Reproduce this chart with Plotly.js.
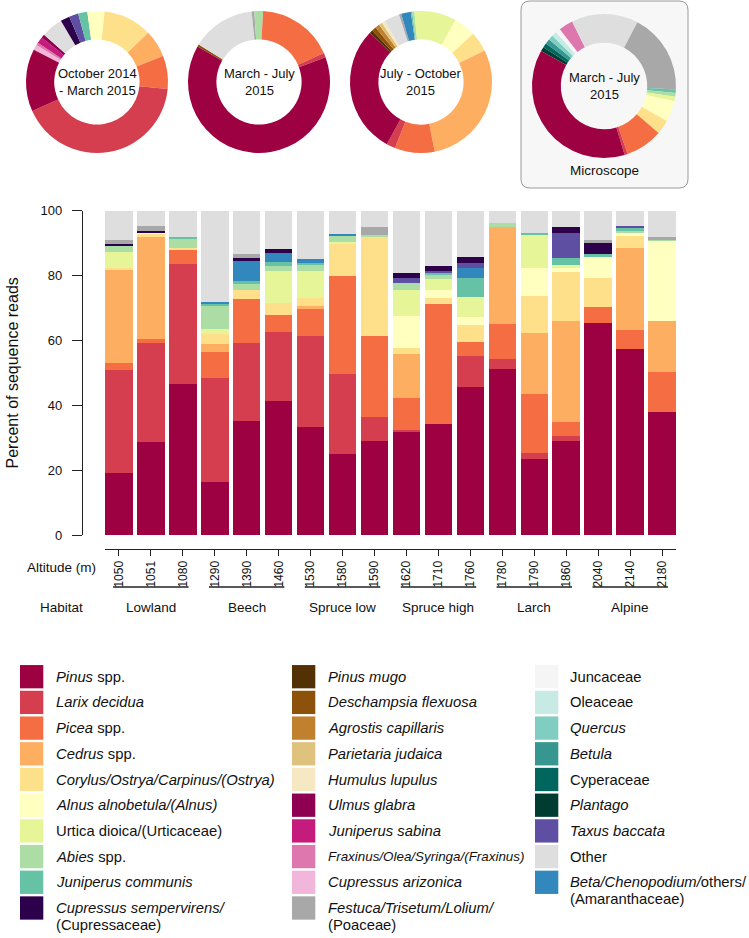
<!DOCTYPE html>
<html><head><meta charset="utf-8">
<script src="https://cdn.plot.ly/plotly-3.0.1.min.js"></script>
<style>html,body{margin:0;padding:0;background:#fff}#chart{width:749px;height:938px}</style>
</head><body><div id="chart"></div>
<script>
// ---------------- DATA ----------------
const altitudes = ['1050','1051','1080','1290','1390','1460','1530','1580','1590','1620','1710','1760','1780','1790','1860','2040','2140','2180'];
const habitats = ['Lowland','Beech','Spruce low','Spruce high','Larch','Alpine'];
const habitatFirstBar = [0, 3, 6, 9, 12, 15];
const habitatLastBar  = [2, 5, 8, 11, 14, 17];
const yTicks = [0, 20, 40, 60, 80, 100];

// percent of sequence reads per altitude (stack order bottom -> top)
const barPinus     = [19.0, 28.8, 46.5, 16.4, 35.3, 41.3, 33.4, 25.0, 29.1, 31.9, 34.1, 45.7, 51.2, 23.3, 29.1, 65.3, 57.3, 37.8];
const barLarix     = [31.9, 30.3, 37.1, 32.1, 23.8, 21.4, 28.0, 24.6,  7.2,  0.5,  0.0,  9.6,  3.0,  2.1,  1.4,  0.0,  0.0,  0.0];
const barPicea     = [ 2.2,  1.3,  4.3,  7.9, 13.7,  5.0,  8.2, 30.3, 25.1,  9.9, 37.0,  4.1, 10.8, 18.1,  4.4,  5.1,  6.0, 12.6];
const barCedrus    = [28.6, 31.6,  0.0,  2.5,  0.0,  0.0,  1.0,  0.0,  0.0, 13.5,  0.0,  0.0, 30.1, 18.7, 31.1,  0.0, 25.3, 15.7];
const barCorylus   = [ 0.7,  1.0,  0.7,  3.1,  2.9,  3.7,  2.6, 10.2, 30.8,  1.8,  1.9,  5.3,  0.0, 11.5, 15.2,  9.0,  3.6,  0.0];
const barAlnus     = [ 0.0,  0.3,  0.0,  0.0,  0.0,  0.0,  0.0,  0.0,  0.0,  9.9,  2.5,  2.6,  0.0,  8.7,  1.5,  6.4,  1.1, 24.7];
const barUrtica    = [ 5.0,  0.0,  0.0,  1.4,  0.0, 10.1,  8.3,  0.3,  0.0,  8.2,  3.3,  6.2,  0.0, 10.3,  0.5,  0.0,  0.0,  0.0];
const barAbies     = [ 2.0,  0.0,  2.9,  7.2,  1.9,  1.6,  2.0,  1.9,  0.4,  2.1,  1.7,  0.0,  1.2,  0.0,  0.0,  0.0,  0.5,  0.3];
const barJunComm   = [ 0.0,  0.0,  0.3,  0.8,  0.6,  1.1,  0.3,  0.2,  0.0,  0.0,  0.4,  5.8,  0.0,  0.4,  2.3,  1.0,  0.8,  0.0];
const barBeta      = [ 0.0,  0.0,  0.0,  0.3,  6.6,  2.8,  1.2,  0.2,  0.0,  0.0,  0.0,  3.1,  0.0,  0.0,  0.0,  0.0,  0.0,  0.0];
const barTaxus     = [ 0.0,  0.0,  0.0,  0.0,  0.0,  0.0,  0.0,  0.0,  0.0,  1.6,  0.6,  1.4,  0.0,  0.0,  7.5,  0.0,  0.7,  0.0];
const barCupSemp   = [ 0.2,  0.4,  0.0,  0.0,  0.5,  1.1,  0.0,  0.0,  0.0,  1.5,  1.5,  1.8,  0.0,  0.0,  1.9,  3.3,  0.0,  0.0];
const barFestuca   = [ 1.4,  1.6,  0.0,  0.0,  1.5,  0.0,  0.0,  0.0,  2.5,  0.0,  0.0,  0.0,  0.0,  0.0,  0.0,  0.8,  0.0,  0.7];
const barOther     = [ 9.0,  4.7,  8.2, 28.3, 13.2, 11.9, 15.0,  7.3,  4.9, 19.1, 17.0, 14.4,  3.7,  6.9,  5.1,  9.1,  4.7,  8.2];

// donut slices, counter-clockwise order starting with Pinus
const donutTaxa = ['pinus','larix','picea','cedrus','corylus','alnus','urtica','abies','junComm','beta','taxus','cupSemp','festuca','other',
                   'ulmus','junSab','fraxinus','cupAriz','juncaceae','oleaceae','quercus','betula','cyperaceae','plantago',
                   'humulus','parietaria','agrostis','deschampsia','pinMugo'];
const donutOct14Mar15 = [14.2, 41.7,  7.5,  6.2, 11.1, 3.9, 0.0, 0.0, 2.1, 0.0, 2.1, 2.1,  0.0,  4.9, 0.8, 1.5, 0.6, 1.2, 0,0,0,0,0,0, 0,0,0,0,0];
const donutMarJul15   = [64.0,  1.0, 17.4,  0.0,  0.0, 0.0, 0.0, 2.0, 0.0, 0.0, 0.0, 0.0,  0.6, 14.5, 0,0,0,0, 0,0,0,0,0,0, 0,0,0,0.5,0];
const donutJulOct15   = [29.0,  2.0,  9.0, 29.0,  4.5, 5.0, 9.5, 0.5, 0.3, 2.2, 0.0, 0.0,  0.5,  3.5, 0,0,0,0, 0,0,0,0,0,0, 0.7,0.8,1.0,1.0,0.7];
const donutMicroscope = [37.5,  0.7,  8.3,  0.0,  3.2, 4.7, 1.0, 0.8, 0.8, 0.0, 0.0, 0.0, 18.0, 14.9, 0,0,3.2,0, 1.1,1.1,1.1,1.1,1.0,1.0, 0,0,0,0,0];
const donutTitles = ['October 2014<br>- March 2015', 'March - July<br>2015', 'July - October<br>2015', 'March - July<br>2015'];
const microscopeLabel = 'Microscope';

// legend
const legendCol1 = ['pinus','larix','picea','cedrus','corylus','alnus','urtica','abies','junComm','cupSemp'];
const legendCol2 = ['pinMugo','deschampsia','agrostis','parietaria','humulus','ulmus','junSab','fraxinus','cupAriz','festuca'];
const legendCol3 = ['juncaceae','oleaceae','quercus','betula','cyperaceae','plantago','taxus','other','beta'];
const legendLabels = {
  pinus:'<i>Pinus</i> spp.', larix:'<i>Larix decidua</i>', picea:'<i>Picea</i> spp.', cedrus:'<i>Cedrus</i> spp.',
  corylus:'<i>Corylus/Ostrya/Carpinus/(Ostrya)</i>', alnus:'<i>Alnus alnobetula/(Alnus)</i>',
  urtica:'Urtica dioica/(Urticaceae)', abies:'<i>Abies</i> spp.', junComm:'<i>Juniperus communis</i>',
  cupSemp:'<i>Cupressus sempervirens/</i><br>(Cupressaceae)',
  pinMugo:'<i>Pinus mugo</i>', deschampsia:'<i>Deschampsia flexuosa</i>', agrostis:'<i>Agrostis capillaris</i>',
  parietaria:'<i>Parietaria judaica</i>', humulus:'<i>Humulus lupulus</i>', ulmus:'<i>Ulmus glabra</i>',
  junSab:'<i>Juniperus sabina</i>', fraxinus:'<i>Fraxinus/Olea/Syringa/(Fraxinus)</i>', cupAriz:'<i>Cupressus arizonica</i>',
  festuca:'<i>Festuca/Trisetum/Lolium/</i><br>(Poaceae)',
  juncaceae:'Juncaceae', oleaceae:'Oleaceae', quercus:'<i>Quercus</i>', betula:'<i>Betula</i>', cyperaceae:'Cyperaceae',
  plantago:'<i>Plantago</i>', taxus:'<i>Taxus baccata</i>', other:'Other',
  beta:'<i>Beta/Chenopodium/</i>others/<br>(Amaranthaceae)'
};

// ---------------- STYLE ----------------
const colors = {
  pinus:'#9E0142', larix:'#D53E4F', picea:'#F46D43', cedrus:'#FDAE61', corylus:'#FEE08B', alnus:'#FFFFBF',
  urtica:'#E6F598', abies:'#ABDDA4', junComm:'#66C2A5', cupSemp:'#2D004B', pinMugo:'#543005', deschampsia:'#8C510A',
  agrostis:'#BF812D', parietaria:'#DFC27D', humulus:'#F6E8C3', ulmus:'#8E0152', junSab:'#C51B7D', fraxinus:'#DE77AE',
  cupAriz:'#F1B6DA', festuca:'#A8A8A8', juncaceae:'#F5F5F5', oleaceae:'#C7EAE5', quercus:'#80CDC1', betula:'#35978F',
  cyperaceae:'#01665E', plantago:'#003C30', taxus:'#5E4FA2', other:'#DEDEDE', beta:'#3288BD'
};
const W = 749, H = 938;
const fx = v => v / W;
const fy = v => 1 - v / H;
const FONT = 'Liberation Sans, Arial, Helvetica, sans-serif';

const barSeries = [
  ['pinus', barPinus], ['larix', barLarix], ['picea', barPicea], ['cedrus', barCedrus], ['corylus', barCorylus],
  ['alnus', barAlnus], ['urtica', barUrtica], ['abies', barAbies], ['junComm', barJunComm], ['beta', barBeta],
  ['taxus', barTaxus], ['cupSemp', barCupSemp], ['festuca', barFestuca], ['other', barOther]
];

const traces = barSeries.map(([k, vals]) => ({
  type:'bar', x: altitudes, y: vals, name: legendLabels[k],
  marker:{color: colors[k], line:{width:0}}, xaxis:'x', yaxis:'y',
  showlegend:false, hoverinfo:'x+y'
}));

const donutGeom = [
  {cx: 97,  cy: 82, r: 71, rot: -63},
  {cx: 259, cy: 82, r: 71, rot: -60},
  {cx: 421, cy: 82, r: 71, rot: -46},
  {cx: 604, cy: 86, r: 72, rot: -61}
];
const donutData = [donutOct14Mar15, donutMarJul15, donutJulOct15, donutMicroscope];
const revTaxa = donutTaxa.slice().reverse();
donutData.forEach((vals, i) => {
  const g = donutGeom[i];
  traces.push({
    type:'pie', values: vals.slice().reverse(), labels: revTaxa,
    marker:{colors: revTaxa.map(k => colors[k]), line:{width:0}},
    hole:0.6, sort:false, direction:'clockwise', rotation:g.rot,
    textinfo:'none', hoverinfo:'label+percent', showlegend:false,
    domain:{x:[fx(g.cx - g.r), fx(g.cx + g.r)], y:[fy(g.cy + g.r), fy(g.cy - g.r)]}
  });
});

const annotations = [];
const shapes = [];

// microscope box (rounded)
(function(){
  const x0 = 521, x1 = 688, y0 = 1, y1 = 188, r = 9;
  const P = (x, y) => fx(x) + ',' + fy(y);
  const path = 'M' + P(x0 + r, y0) + ' L' + P(x1 - r, y0) + ' Q' + P(x1, y0) + ' ' + P(x1, y0 + r) +
    ' L' + P(x1, y1 - r) + ' Q' + P(x1, y1) + ' ' + P(x1 - r, y1) +
    ' L' + P(x0 + r, y1) + ' Q' + P(x0, y1) + ' ' + P(x0, y1 - r) +
    ' L' + P(x0, y0 + r) + ' Q' + P(x0, y0) + ' ' + P(x0 + r, y0) + ' Z';
  shapes.push({type:'path', xref:'paper', yref:'paper', path: path, fillcolor:'#F7F7F7',
               line:{color:'#9A9A9A', width:1}, layer:'below'});
})();

donutTitles.forEach((t, i) => {
  const g = donutGeom[i];
  annotations.push({xref:'paper', yref:'paper', x: fx(g.cx), y: fy(g.cy), text: t, showarrow:false,
    xanchor:'center', yanchor:'middle', align:'center', font:{family:FONT, size:13, color:'#111'}});
});
annotations.push({xref:'paper', yref:'paper', x: fx(604), y: fy(170), text: microscopeLabel, showarrow:false,
  xanchor:'center', yanchor:'middle', font:{family:FONT, size:13.5, color:'#111'}});

// axis side labels
annotations.push({xref:'paper', yref:'paper', x: fx(61), y: fy(567), text:'Altitude (m)', showarrow:false,
  xanchor:'center', yanchor:'middle', font:{family:FONT, size:13.5, color:'#111'}});
annotations.push({xref:'paper', yref:'paper', x: fx(62), y: fy(607), text:'Habitat', showarrow:false,
  xanchor:'center', yanchor:'middle', font:{family:FONT, size:13.5, color:'#111'}});

// habitat group lines and labels
habitats.forEach((h, i) => {
  const a = habitatFirstBar[i], b = habitatLastBar[i];
  shapes.push({type:'line', xref:'x', yref:'paper', x0: a - 0.18, x1: b + 0.18, y0: fy(587), y1: fy(587),
               line:{color:'#222', width:1.5}});
  annotations.push({xref:'x', yref:'paper', x: (a + b) / 2, y: fy(607), text: h, showarrow:false,
    xanchor:'center', yanchor:'middle', font:{family:FONT, size:13.5, color:'#111'}});
});

// legend
const legendCols = [
  {sx: 20,  tx: 54,  keys: legendCol1},
  {sx: 292, tx: 326, keys: legendCol2},
  {sx: 535, tx: 568, keys: legendCol3}
];
const legendFont = {fraxinus: 13.4};
legendCols.forEach(col => {
  col.keys.forEach((k, j) => {
    const cy = 676.7 + 25.7 * j;
    const s = 23.3;
    shapes.push({type:'rect', xref:'paper', yref:'paper', x0: fx(col.sx), x1: fx(col.sx + s),
      y0: fy(cy + s / 2), y1: fy(cy - s / 2), fillcolor: colors[k], line:{width:0}});
    legendLabels[k].split('<br>').forEach((line, li) => {
      annotations.push({xref:'paper', yref:'paper', x: fx(col.tx), y: fy(cy + 17 * li), text: line, showarrow:false,
        xanchor:'left', yanchor:'middle', font:{family:FONT, size: legendFont[k] || 14.8, color:'#111'}});
    });
  });
});

const layout = {
  width: W, height: H,
  margin:{l:0, r:0, t:0, b:0, pad:0},
  paper_bgcolor:'#ffffff', plot_bgcolor:'rgba(0,0,0,0)',
  font:{family:FONT, color:'#111'},
  barmode:'stack', bargap:0.135,
  showlegend:false,
  xaxis:{
    type:'category', domain:[fx(105), fx(676)], range:[-0.4325, 17.4325],
    anchor:'free', position: fy(549), automargin:false,
    showline:true, linecolor:'#222', linewidth:1.2,
    ticks:'outside', ticklen:6, tickwidth:1.2, tickcolor:'#222',
    tickangle:-90, tickfont:{family:FONT, size:12, color:'#111'},
    showgrid:false, zeroline:false, fixedrange:true
  },
  yaxis:{
    domain:[fy(535), fy(210.7)], range:[0, 100],
    anchor:'free', position: fx(82), automargin:false,
    showline:true, linecolor:'#222', linewidth:1.2,
    ticks:'outside', ticklen:10, tickwidth:1.2, tickcolor:'#222',
    tickvals: yTicks, ticklabelstandoff: 7,
    tickfont:{family:FONT, size:13, color:'#111'},
    title:{text:'Percent of sequence reads', font:{family:FONT, size:16, color:'#111'}, standoff:16},
    showgrid:false, zeroline:false, fixedrange:true
  },
  shapes: shapes,
  annotations: annotations
};

Plotly.newPlot('chart', traces, layout, {displayModeBar:false, responsive:false});
</script>
</body></html>
